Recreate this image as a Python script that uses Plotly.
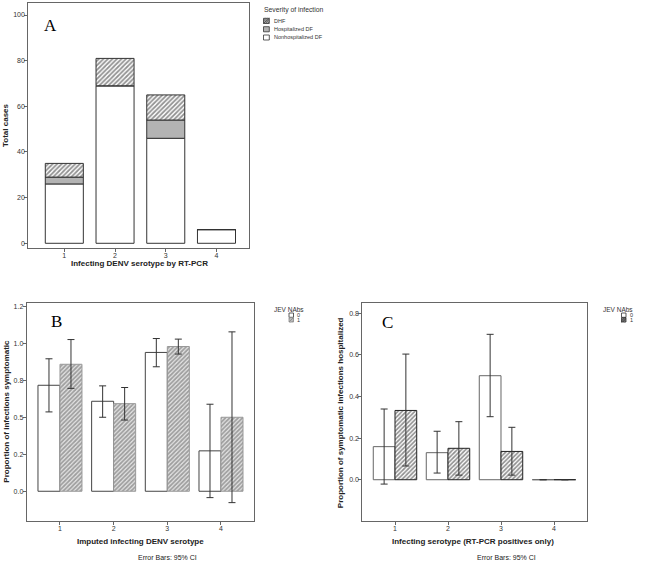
import plotly.graph_objects as go

W, H = 647, 564

# ---------------- data ----------------
serotypes = [1, 2, 3, 4]
# Panel A: stacked counts
a_nonhosp = [26, 69, 46, 6]
a_hosp = [3, 0, 8, 0]
a_dhf = [6, 12, 11, 0]

# Panel B: proportion symptomatic by JEV NAbs (0 / 1)
b_jev0 = [0.716, 0.608, 0.938, 0.273]
b_jev0_hi = [0.895, 0.712, 1.032, 0.588]
b_jev0_lo = [0.536, 0.500, 0.841, -0.043]
b_jev1 = [0.858, 0.592, 0.978, 0.500]
b_jev1_hi = [1.025, 0.701, 1.028, 1.077]
b_jev1_lo = [0.695, 0.481, 0.927, -0.077]
b_ytickvals = [0.0, 0.25, 0.5, 0.75, 1.0, 1.25]
b_yticktext = ["0.0", "0.2", "0.5", "0.8", "1.0", "1.2"]

# Panel C: proportion of symptomatic infections hospitalized
c_jev0 = [0.159, 0.130, 0.500, 0.0]
c_jev0_hi = [0.340, 0.233, 0.699, 0.0]
c_jev0_lo = [-0.021, 0.032, 0.303, 0.0]
c_jev1 = [0.333, 0.151, 0.136, 0.0]
c_jev1_hi = [0.604, 0.279, 0.252, 0.0]
c_jev1_lo = [0.066, 0.022, 0.022, 0.0]
c_ytickvals = [-0.2, 0.0, 0.2, 0.4, 0.6, 0.8]
c_yticktext = ["-0.2", "0.0", "0.2", "0.4", "0.6", "0.8"]


def px(x):
    return x / W


def py(y):
    return 1 - y / H


SANS = "Liberation Sans, Arial, sans-serif"
SERIF = "Liberation Serif, Times New Roman, serif"

fig = go.Figure()

# ---------- Panel A ----------
base_hosp = list(a_nonhosp)
base_dhf = [n + h for n, h in zip(a_nonhosp, a_hosp)]
fig.add_trace(go.Bar(x=serotypes, y=a_nonhosp, width=0.75, name="Nonhospitalized DF",
                     marker=dict(color="white", line=dict(color="#333", width=1)),
                     xaxis="x", yaxis="y", showlegend=False))
fig.add_trace(go.Bar(x=serotypes, y=a_hosp, base=base_hosp, width=0.75, name="Hospitalized DF",
                     marker=dict(color="#b3b3b3", line=dict(color="#333", width=1)),
                     xaxis="x", yaxis="y", showlegend=False))
fig.add_trace(go.Bar(x=serotypes, y=a_dhf, base=base_dhf, width=0.75, name="DHF",
                     marker=dict(color="white", line=dict(color="#333", width=1),
                                 pattern=dict(shape="/", fgcolor="#222", bgcolor="white",
                                              size=3.2, solidity=0.55)),
                     xaxis="x", yaxis="y", showlegend=False))


def err(vals, hi, lo):
    return dict(type="data", symmetric=False,
                array=[h - v for h, v in zip(hi, vals)],
                arrayminus=[v - l for v, l in zip(vals, lo)],
                color="#333", thickness=1, width=3.5)


# ---------- Panel B ----------
fig.add_trace(go.Bar(x=serotypes, y=b_jev0, width=0.41, offset=-0.41, name="0",
                     marker=dict(color="white", line=dict(color="#444", width=1)),
                     error_y=err(b_jev0, b_jev0_hi, b_jev0_lo),
                     xaxis="x2", yaxis="y2", showlegend=False))
fig.add_trace(go.Bar(x=serotypes, y=b_jev1, width=0.41, offset=0, name="1",
                     marker=dict(color="#e6e6e6", line=dict(color="#999", width=1),
                                 pattern=dict(shape="/", fgcolor="#555", bgcolor="#e6e6e6",
                                              size=3, solidity=0.6)),
                     error_y=err(b_jev1, b_jev1_hi, b_jev1_lo),
                     xaxis="x2", yaxis="y2", showlegend=False))

# ---------- Panel C ----------
fig.add_trace(go.Bar(x=serotypes, y=c_jev0, width=0.41, offset=-0.41, name="0",
                     marker=dict(color="white", line=dict(color="#666", width=1)),
                     error_y=err(c_jev0, c_jev0_hi, c_jev0_lo),
                     xaxis="x3", yaxis="y3", showlegend=False))
fig.add_trace(go.Bar(x=serotypes, y=c_jev1, width=0.41, offset=0, name="1",
                     marker=dict(color="white", line=dict(color="#222", width=1),
                                 pattern=dict(shape="/", fgcolor="#222", bgcolor="white",
                                              size=3, solidity=0.55)),
                     error_y=err(c_jev1, c_jev1_hi, c_jev1_lo),
                     xaxis="x3", yaxis="y3", showlegend=False))

axis_common = dict(showgrid=False, zeroline=False, showline=True, mirror=True,
                   linecolor="#666", linewidth=1, ticks="outside", ticklen=3,
                   tickcolor="#666", ticklabelstandoff=-2,
                   tickfont=dict(family=SANS, size=7, color="#333"))

fig.update_layout(
    width=W, height=H, margin=dict(l=0, r=0, t=0, b=0),
    paper_bgcolor="white", plot_bgcolor="white", barmode="overlay",
    xaxis=dict(domain=[px(28.3), px(249.3)], range=[0.29, 4.647], tickvals=serotypes,
               anchor="y", **axis_common),
    yaxis=dict(domain=[py(247.7), py(2.7)], range=[-1.93, 105.4],
               tickvals=[0, 20, 40, 60, 80, 100], anchor="x", **axis_common),
    xaxis2=dict(domain=[px(26.7), px(254)], range=[0.38, 4.615], tickvals=serotypes,
                anchor="y2", **axis_common),
    yaxis2=dict(domain=[py(520.7), py(302.7)], range=[-0.199, 1.274],
                tickvals=b_ytickvals, ticktext=b_yticktext, anchor="x2", **axis_common),
    xaxis3=dict(domain=[px(362.3), px(586.7)], range=[0.383, 4.617], tickvals=serotypes,
                anchor="y3", **axis_common),
    yaxis3=dict(domain=[py(520.7), py(302.7)], range=[-0.197, 0.851],
                tickvals=c_ytickvals, ticktext=c_yticktext, anchor="x3", **axis_common),
)

ann = []


def text(x, y, s, size=8, bold=False, angle=0, family=SANS, xanchor="center", color="#222"):
    ann.append(dict(x=px(x), y=py(y), xref="paper", yref="paper", text=(f"<b>{s}</b>" if bold else s),
                    showarrow=False, textangle=angle, xanchor=xanchor, yanchor="middle",
                    font=dict(family=family, size=size, color=color)))


# axis titles
text(139, 263, "Infecting DENV serotype by RT-PCR", 8, True)
text(6, 125, "Total cases", 8, True, -90)
text(140, 541.7, "Imputed infecting DENV serotype", 8, True)
text(7, 411.7, "Proportion of infections symptomatic", 8, True, -90)
text(167.5, 557.7, "Error Bars: 95% CI", 7)
text(473.3, 541.7, "Infecting serotype (RT-PCR positives only)", 8, True)
text(340.7, 412.5, "Proportion of symptomatic infections hospitalized", 8, True, -90)
text(506.7, 557.7, "Error Bars: 95% CI", 7)

# panel letters
text(51, 25, "A", 17, family=SERIF, color="#000")
text(56, 321, "B", 17, family=SERIF, color="#000")
text(387.7, 322, "C", 17, family=SERIF, color="#000")

# legends (manual)
shapes = []


def swatch(x0, y0, x1, y1, fill, line="#333", hatch=None):
    shapes.append(dict(type="rect", xref="paper", yref="paper", x0=px(x0), x1=px(x1),
                       y0=py(y1), y1=py(y0), fillcolor=fill, line=dict(color=line, width=0.8)))
    if hatch:
        for k in (0.33, 0.66, 1.0):
            dx = (x1 - x0) * k
            dy = (y1 - y0) * k
            shapes.append(dict(type="line", xref="paper", yref="paper",
                               x0=px(x0), y0=py(y0 + dy), x1=px(x0 + dx), y1=py(y0),
                               line=dict(color=hatch, width=0.7)))
            shapes.append(dict(type="line", xref="paper", yref="paper",
                               x0=px(x1 - dx), y0=py(y1), x1=px(x1), y1=py(y1 - dy),
                               line=dict(color=hatch, width=0.7)))


text(262.3, 10, "Severity of infection", 6.8, xanchor="left", color="#333")
swatch(263.5, 18.3, 269.3, 23.5, "#bbb", hatch="#444")
text(272, 21, "DHF", 5.5, xanchor="left", color="#333")
swatch(263.5, 26.7, 269.3, 31.8, "#b3b3b3")
text(272, 29.3, "Hospitalized DF", 5.5, xanchor="left", color="#333")
swatch(263.5, 35, 269.3, 40, "white")
text(272, 37.5, "Nonhospitalized DF", 5.5, xanchor="left", color="#333")

text(289.2, 309, "JEV NAbs", 6.5, color="#333")
swatch(289, 313, 293.5, 317.3, "white")
text(295, 315, "0", 5.5, xanchor="left", color="#333")
swatch(289, 317.6, 293.5, 322, "#d9d9d9", line="#888", hatch="#888")
text(295, 319.8, "1", 5.5, xanchor="left", color="#333")

text(618.3, 309, "JEV NAbs", 6.5, color="#333")
swatch(621.5, 313, 626, 317.3, "white")
text(627.5, 315, "0", 5.5, xanchor="left", color="#333")
swatch(621.5, 317.6, 626, 322, "#aaa", hatch="#333")
text(627.5, 319.8, "1", 5.5, xanchor="left", color="#333")

fig.update_layout(annotations=ann, shapes=shapes)

fig.write_html("out.html", config={"displayModeBar": False},
               post_script="document.body.style.margin='0';")
